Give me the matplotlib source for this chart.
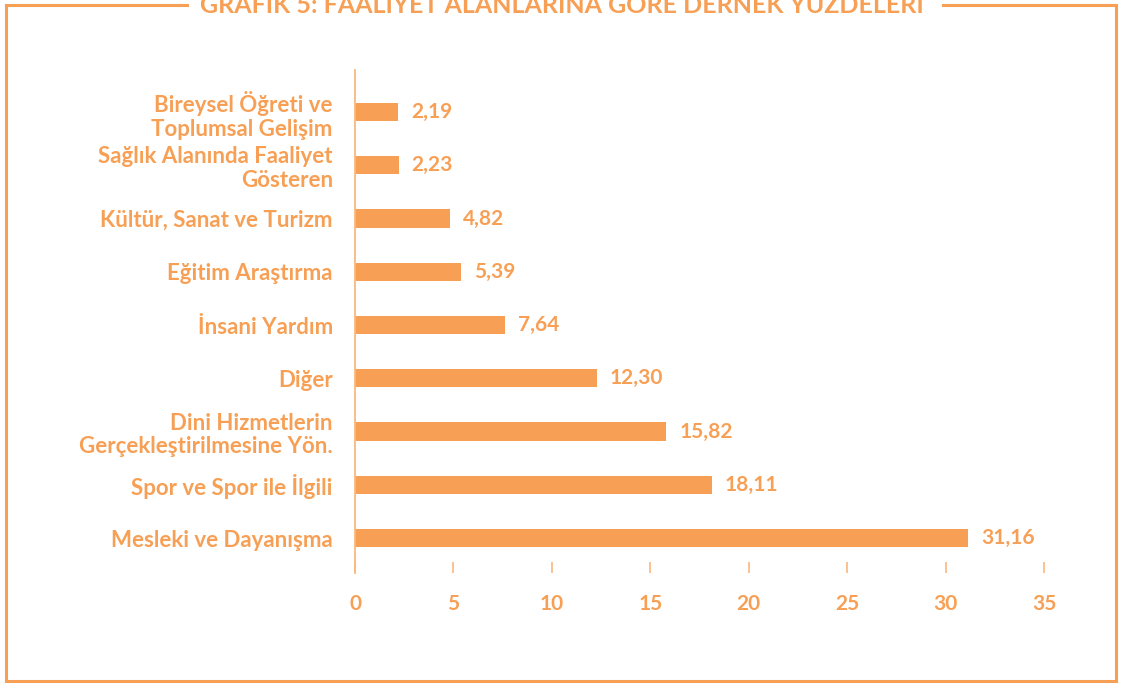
import numpy as np
import matplotlib
matplotlib.use("Agg")
import matplotlib.pyplot as plt
from matplotlib.lines import Line2D

# ───────── data ─────────
categories = [
    "Mesleki ve Dayanışma",
    "Spor ve Spor ile İlgili",
    "Dini Hizmetlerin\nGerçekleştirilmesine Yön.",
    "Diğer",
    "İnsani Yardım",
    "Eğitim Araştırma",
    "Kültür, Sanat ve Turizm",
    "Sağlık Alanında Faaliyet\nGösteren",
    "Bireysel Öğreti ve\nToplumsal Gelişim",
]
values = [31.16, 18.11, 15.82, 12.30, 7.64, 5.39, 4.82, 2.23, 2.19]
xticks = [0, 5, 10, 15, 20, 25, 30, 35]
title = "GRAFİK 5: FAALİYET ALANLARINA GÖRE DERNEK YÜZDELERİ"

ORANGE = "#F7A055"
LIGHT = "#F9B87E"
W, H = 1123, 683

plt.rcParams["font.family"] = ["Lato", "DejaVu Sans"]
plt.rcParams["font.weight"] = "bold"

fig = plt.figure(figsize=(W / 100, H / 100), dpi=100)

# axes: x=0 at px 355, x=35 at px 1044; top 70, bottom 573
ax = fig.add_axes([355 / W, 1 - 573 / H, (1044 - 355) / W, (573 - 70) / H])
y = np.arange(len(categories))
ax.barh(y, values, height=0.34, color=ORANGE)
ax.set_xlim(0, 35)
ax.set_ylim(-0.657, 8.789)

for yi, v in zip(y, values):
    ax.text(v + 0.65, yi, f"{v:.2f}".replace(".", ","), va="center", ha="left",
            fontsize=15, color=ORANGE, fontweight="bold")

ax.set_yticks(y)
ax.set_yticklabels(categories, fontsize=16, color=ORANGE, fontweight="bold",
                   linespacing=1.15)
ax.tick_params(axis="y", length=0, pad=16)

ax.set_xticks(xticks)
ax.set_xticklabels([str(t) for t in xticks], fontsize=15, color=ORANGE,
                   fontweight="bold")
ax.tick_params(axis="x", direction="in", length=8, width=1.2, color=LIGHT, pad=15)

for s in ["top", "right", "bottom"]:
    ax.spines[s].set_visible(False)
ax.spines["left"].set_color(LIGHT)
ax.spines["left"].set_linewidth(1.3)

# ───────── frame and title ─────────
lw = 2.2
frame = [
    ([6, 6], [5, 681]),
    ([1116, 1116], [5, 681]),
    ([6, 1116], [681, 681]),
    ([6, 187], [5, 5]),
    ([943, 1116], [5, 5]),
]
for xs, ys in frame:
    fig.add_artist(Line2D([x / W for x in xs], [1 - v / H for v in ys],
                          color=ORANGE, lw=lw, transform=fig.transFigure))

fig.text(562 / W, 1 - 13 / H, title, ha="center", va="baseline",
         fontsize=18, color=ORANGE, fontweight="bold")

fig.savefig("out.png", dpi=100, facecolor="white")
